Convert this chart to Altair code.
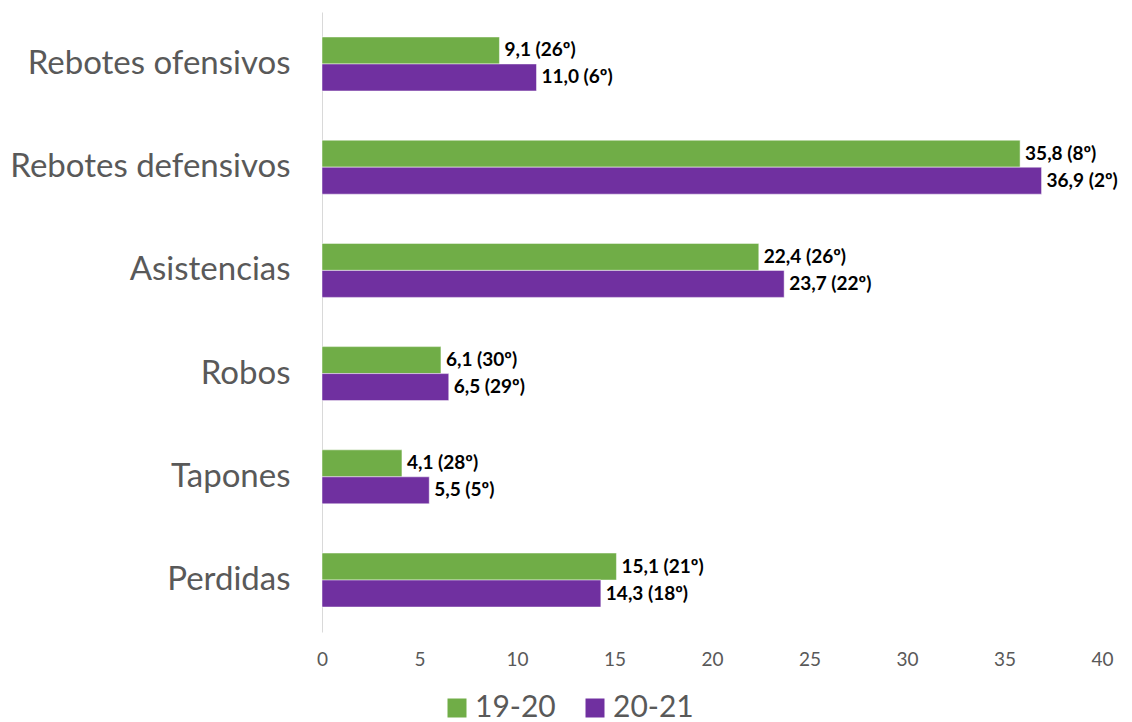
import altair as alt
import pandas as pd

categories = ["Rebotes ofensivos", "Rebotes defensivos", "Asistencias", "Robos", "Tapones", "Perdidas"]
series = ["19-20", "20-21"]
values_1920 = [9.1, 35.8, 22.4, 6.1, 4.1, 15.1]
values_2021 = [11.0, 36.9, 23.7, 6.5, 5.5, 14.3]
labels_1920 = ["9,1 (26º)", "35,8 (8º)", "22,4 (26º)", "6,1 (30º)", "4,1 (28º)", "15,1 (21º)"]
labels_2021 = ["11,0 (6º)", "36,9 (2º)", "23,7 (22º)", "6,5 (29º)", "5,5 (5º)", "14,3 (18º)"]
colors = ["#70AD47", "#7030A0"]

rows = []
for i, c in enumerate(categories):
    rows.append({"cat": c, "serie": series[0], "val": values_1920[i], "lab": labels_1920[i]})
    rows.append({"cat": c, "serie": series[1], "val": values_2021[i], "lab": labels_2021[i]})
df = pd.DataFrame(rows)

FONT = "Lato"

y_enc = alt.Y("cat:N", sort=categories, title=None,
              scale=alt.Scale(paddingInner=0.477, paddingOuter=0.242),
              axis=alt.Axis(labelFontSize=33, labelColor="#595959", labelFont=FONT,
                            ticks=False, domainColor="#D9D9D9", domainWidth=1,
                            labelPadding=32, grid=False, labelLimit=0))
yoff = alt.YOffset("serie:N", sort=series, scale=alt.Scale(paddingInner=0, paddingOuter=0))

x_enc = alt.X("val:Q", title=None,
              scale=alt.Scale(domain=[0, 40], nice=False),
              axis=alt.Axis(values=[0, 5, 10, 15, 20, 25, 30, 35, 40], labelFontSize=19,
                            labelColor="#595959", labelFont=FONT, ticks=False, domain=False,
                            grid=False, labelPadding=18, labelAlign="center",
                            labelFlush=False))

bars = alt.Chart(df).mark_bar(stroke="#FFFFFF", strokeWidth=0.8, strokeOpacity=0.6).encode(
    x=x_enc, y=y_enc, yOffset=yoff,
    color=alt.Color("serie:N", sort=series, scale=alt.Scale(domain=series, range=colors),
                    legend=alt.Legend(title=None, orient="none", legendX=120, legendY=681,
                                      direction="horizontal", symbolType="square",
                                      symbolSize=361, symbolStrokeWidth=0,
                                      labelFontSize=30, labelColor="#595959", labelFont=FONT,
                                      labelOffset=3, columnPadding=24)),
)

text = alt.Chart(df).mark_text(align="left", baseline="middle", dx=5, fontSize=19,
                               fontWeight="bold", font=FONT, color="#000000").encode(
    x="val:Q", y=alt.Y("cat:N", sort=categories), yOffset=alt.YOffset("serie:N", sort=series),
    text="lab:N",
)

chart = alt.layer(bars, text).properties(
    width=780, height=620,
    autosize=alt.AutoSizeParams(type="none"),
    padding={"left": 314, "top": 4, "right": 22, "bottom": 92},
    background="#FFFFFF",
).configure_view(strokeWidth=0, stroke=None)

chart.save("out.html", embed_options={"renderer": "svg", "actions": False})
